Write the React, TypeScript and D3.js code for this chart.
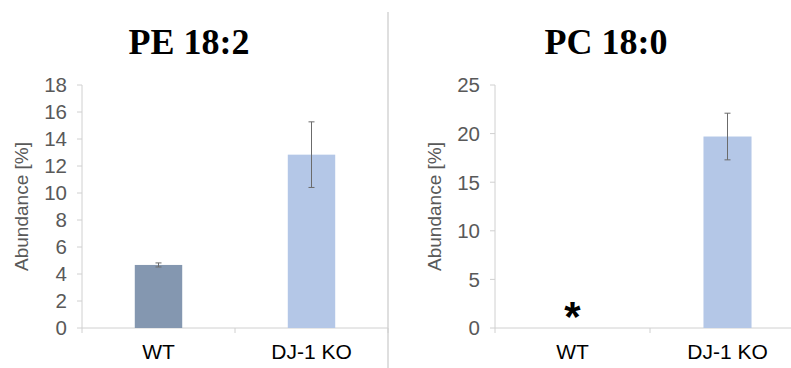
import React from "react";
import * as d3 from "d3";

// Lipid species abundance, WT vs DJ-1 KO
const categories = ["WT", "DJ-1 KO"];
const peValues = [4.67, 12.84];
const peErrors = [0.15, 2.43];
const pcValues = [0, 19.7];
const pcErrors = [0, 2.4];
const peTicks = [0, 2, 4, 6, 8, 10, 12, 14, 16, 18];
const pcTicks = [0, 5, 10, 15, 20, 25];
const barColors = ["#8497b0", "#b4c7e7"];

const W = 791;
const H = 368;
const TEXT = "#595959";
const AXIS = "#d0d0d0";

type PanelProps = {
  title: string;
  titleX: number;
  axisX: number;
  axisEnd: number;
  yMax: number;
  ticks: number[];
  values: number[];
  errors: number[];
  showBar: boolean[];
  marker?: number;
};

function Panel({ title, titleX, axisX, axisEnd, yMax, ticks, values, errors, showBar, marker }: PanelProps) {
  const y = d3.scaleLinear().domain([0, yMax]).range([328, 85]);
  const x = d3.scaleBand().domain(categories).range([axisX, axisEnd]).paddingInner(0.69).paddingOuter(0.345);
  const band = d3.scaleBand().domain(categories).range([axisX, axisEnd]);
  const font = "Liberation Sans, Arial, sans-serif";
  return (
    <g>
      <text x={titleX} y={54} textAnchor="middle" fontFamily="Liberation Serif, Times New Roman, serif" fontWeight="bold" fontSize={36} fill="#000">
        {title}
      </text>
      <text
        transform={`translate(${axisX - 54},206.5) rotate(-90)`}
        textAnchor="middle"
        fontFamily={font}
        fontSize={19}
        fill={TEXT}
      >
        Abundance [%]
      </text>
      {/* y axis */}
      <line x1={axisX} x2={axisX} y1={y(yMax)} y2={y(0)} stroke={AXIS} strokeWidth={1} />
      {ticks.map((t) => (
        <g key={t}>
          <line x1={axisX - 5} x2={axisX} y1={y(t)} y2={y(t)} stroke={AXIS} />
          <text x={axisX - 15} y={y(t)} dy="0.36em" textAnchor="end" fontFamily={font} fontSize={20.5} fill={TEXT}>
            {t}
          </text>
        </g>
      ))}
      {/* x axis */}
      <line x1={axisX} x2={axisEnd} y1={y(0)} y2={y(0)} stroke={AXIS} />
      {[axisX, (band(categories[1]) as number), axisEnd].map((p, i) => (
        <line key={i} x1={p} x2={p} y1={y(0)} y2={y(0) + 5} stroke={AXIS} />
      ))}
      {categories.map((c, i) => {
        const cx = (x(c) as number) + x.bandwidth() / 2;
        return (
          <g key={c}>
            {showBar[i] && (
              <>
                <rect x={x(c)} y={y(values[i])} width={x.bandwidth()} height={y(0) - y(values[i])} fill={barColors[i]} />
                <line x1={cx} x2={cx} y1={y(values[i] + errors[i])} y2={y(values[i] - errors[i])} stroke="#6b6b6b" strokeWidth={1} />
                <line x1={cx - 3} x2={cx + 3} y1={y(values[i] + errors[i])} y2={y(values[i] + errors[i])} stroke="#6b6b6b" />
                <line x1={cx - 3} x2={cx + 3} y1={y(values[i] - errors[i])} y2={y(values[i] - errors[i])} stroke="#6b6b6b" />
              </>
            )}
            <text x={cx} y={359} textAnchor="middle" fontFamily={font} fontSize={21} fill="#000">
              {c}
            </text>
          </g>
        );
      })}
      {marker !== undefined && (
        <text
          x={(x(categories[marker]) as number) + x.bandwidth() / 2}
          y={331}
          textAnchor="middle"
          fontFamily={font}
          fontWeight="bold"
          fontSize={42}
          fill="#000"
        >
          *
        </text>
      )}
    </g>
  );
}

export default function App() {
  return (
    <svg width={W} height={H} style={{ display: "block", position: "absolute", left: 0, top: 0, background: "#fff" }}>
      <rect width={W} height={H} fill="#fff" />
      <line x1={388} x2={388} y1={12} y2={H} stroke="#bfbfbf" strokeWidth={1} />
      <Panel
        title="PE 18:2"
        titleX={189}
        axisX={82}
        axisEnd={388}
        yMax={18}
        ticks={peTicks}
        values={peValues}
        errors={peErrors}
        showBar={[true, true]}
      />
      <Panel
        title="PC 18:0"
        titleX={606}
        axisX={495}
        axisEnd={805}
        yMax={25}
        ticks={pcTicks}
        values={pcValues}
        errors={pcErrors}
        showBar={[false, true]}
        marker={0}
      />
    </svg>
  );
}
